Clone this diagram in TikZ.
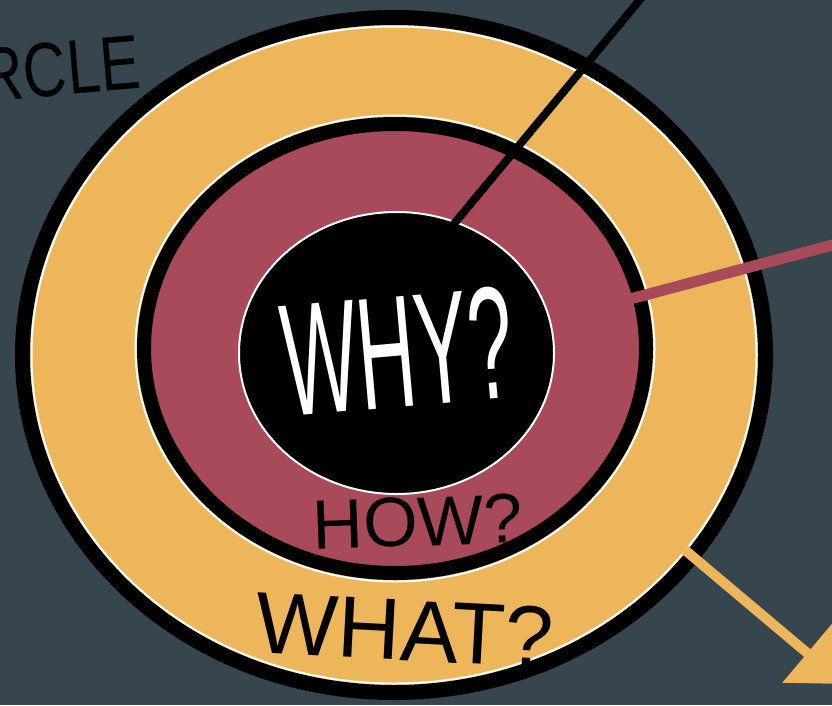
\documentclass[tikz,border=0pt]{standalone}
\usepackage{fontspec}
\setmainfont{Liberation Sans}
\usetikzlibrary{shapes.geometric,arrows.meta}
\definecolor{slate}{RGB}{55,69,79}
\definecolor{gold}{RGB}{237,182,91}
\definecolor{wine}{RGB}{168,74,89}

\begin{document}
\begin{tikzpicture}[x=1pt,y=-1pt]

\tikzstyle{ring} = [ellipse,draw=black,inner sep=0pt,outer sep=0pt];
\tikzstyle{shine} = [ellipse,draw=white,inner sep=0pt,outer sep=0pt,line width=2pt];
\tikzstyle{hand} = [inner sep=0pt,outer sep=0pt];

\useasboundingbox (0,0) rectangle (832,705);
\clip (0,0) rectangle (832,705);
\fill[slate] (0,0) rectangle (832,705);

\node[ring,fill=gold,line width=15pt,minimum width=743pt,minimum height=675pt] at (394,355) (what) {};
\node[shine,minimum width=725pt,minimum height=657pt] at (394,355) (whatshine) {};

\node[shine,minimum width=519pt,minimum height=466pt] at (395,348.5) (howshine) {};
\node[ring,fill=wine,line width=14pt,minimum width=502pt,minimum height=449pt] at (395,348.5) (how) {};

\node[shine,fill=black,minimum width=315pt,minimum height=282pt] at (396.5,353) (whyshine) {};
\node[ellipse,fill=black,inner sep=0pt,outer sep=0pt,minimum width=311pt,minimum height=278pt] at (396.5,353) (why) {};

\coordinate (topend) at (648,-10);
\coordinate (redend) at (840,243);
\coordinate (arrowend) at (844,684);

\path (why.66) edge[-,line width=8pt,black] (topend);
\path (how.12) edge[-,line width=11pt,wine,shorten <=-18pt] (redend);
\path (what.-34.6) edge[-{Triangle[width=75pt,length=48pt]},line width=10pt,gold,shorten <=-10pt] (arrowend);

\node[hand,text=white,rotate=5] at (398,351) (lwhy) {\scalebox{0.5}[1]{\fontsize{160}{160}\selectfont WHY?}};
\node[hand,text=black,rotate=2] at (418,522) (lhow) {\fontsize{70}{70}\selectfont HOW?};
\node[hand,text=black,rotate=-3] at (405,630) (lwhat) {\fontsize{87}{87}\selectfont WHAT?};
\node[hand,text=black,rotate=5,anchor=east] at (140,62) (lcircle) {\scalebox{0.78}[1]{\fontsize{77}{77}\selectfont RCLE}};

\end{tikzpicture}
\end{document}
